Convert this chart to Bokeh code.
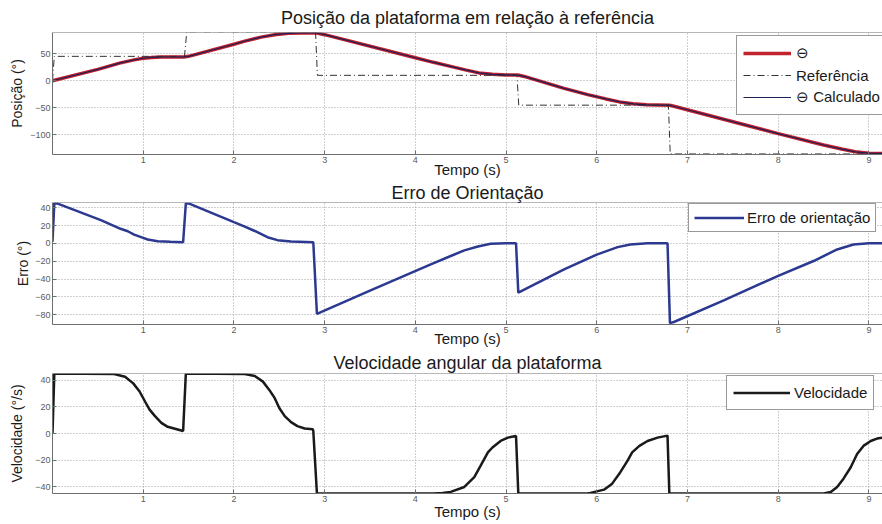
from bokeh.plotting import figure
from bokeh.models import FixedTicker, Span, Legend, LegendItem, Range1d
from bokeh.layouts import column
from bokeh.embed import file_html
from bokeh.resources import INLINE

# ---------------- data ----------------
x_ticks = [1, 2, 3, 4, 5, 6, 7, 8, 9]

# Position of the platform (deg)
pos_t = [0.0, 0.5, 0.75, 0.9, 1.0, 1.1, 1.2, 1.45, 1.5, 2.0, 2.12, 2.3, 2.45, 2.6, 2.75, 2.9,
         3.0, 4.0, 4.2, 4.4, 4.55, 4.7, 4.85, 5.0, 5.13, 5.2, 5.64, 5.9, 6.1, 6.25, 6.4, 6.55,
         6.8, 6.85, 8.0, 8.5, 8.7, 8.85, 9.0, 9.15]
pos_v = [0.0, 21.0, 33.0, 38.5, 41.5, 43.0, 43.8, 44.0, 45.0, 67.3, 73.0, 80.5, 85.0, 87.5, 88.3, 88.5,
         85.0, 42.5, 34.0, 26.0, 20.0, 14.5, 11.8, 10.8, 10.5, 8.0, -14.0, -25.5, -33.5, -39.0, -42.5, -44.3,
         -45.0, -47.0, -97.5, -118.5, -126.0, -131.0, -133.5, -134.0]

# Reference (deg)
ref_t = [0.0, 0.02, 1.455, 1.48, 2.9, 2.92, 5.12, 5.14, 6.79, 6.81, 9.15]
ref_v = [0.0, 45.0, 45.0, 90.0, 90.0, 10.0, 10.0, -45.0, -45.0, -135.0, -135.0]

# Orientation error (deg)
err_t = [0.0, 0.02, 0.05, 0.54, 0.75, 0.83, 0.9, 1.0, 1.05, 1.16, 1.3, 1.44, 1.47, 1.5, 2.0, 2.12,
         2.23, 2.37, 2.48, 2.63, 2.875, 2.915, 3.5, 4.17, 4.39, 4.54, 4.69, 4.83, 5.0, 5.11, 5.135,
         5.64, 6.0, 6.23, 6.37, 6.56, 6.78, 6.807, 6.85, 7.4, 8.0, 8.39, 8.65, 8.83, 9.0, 9.15]
err_v = [2.0, 45.0, 45.0, 26.0, 16.5, 13.7, 10.0, 6.2, 4.4, 2.6, 1.8, 1.4, 45.0, 45.0, 24.0, 19.0,
         14.0, 7.0, 3.7, 2.2, 1.4, -79.0, -52.9, -23.4, -14.1, -7.8, -3.4, -0.4, 0.2, 0.3, -55.2,
         -29.0, -12.5, -4.1, -1.1, 0.3, 0.3, -89.5, -88.2, -64.0, -36.3, -19.7, -6.7, -1.1, 0.3, 0.3]

# Angular velocity (deg/s)
vel_t = [0.0, 0.02, 0.68, 0.8, 0.89, 0.96, 1.02, 1.07, 1.13, 1.2, 1.27, 1.35, 1.44, 1.47,
         2.12, 2.23, 2.32, 2.39, 2.45, 2.5, 2.56, 2.63, 2.7, 2.78, 2.87, 2.875, 2.915,
         4.2, 4.3, 4.39, 4.54, 4.65, 4.72, 4.8, 4.85, 4.94, 5.02, 5.11, 5.135,
         5.9, 5.93, 6.08, 6.17, 6.26, 6.34, 6.39, 6.47, 6.56, 6.67, 6.78, 6.8,
         8.5, 8.58, 8.65, 8.72, 8.8, 8.87, 8.94, 9.02, 9.09, 9.15]
vel_v = [0.0, 45.0, 44.6, 42.6, 37.6, 31.5, 24.0, 17.9, 13.0, 8.0, 5.0, 3.6, 1.9, 45.0,
         44.6, 43.1, 38.9, 32.7, 26.5, 19.1, 13.0, 8.5, 5.5, 3.8, 3.1, 2.0, -45.0,
         -45.0, -44.7, -43.8, -40.1, -32.7, -24.1, -14.2, -10.5, -5.6, -3.1, -1.9, -45.0,
         -45.0, -44.6, -42.1, -37.6, -29.0, -20.4, -14.2, -9.3, -5.6, -3.1, -1.6, -45.0,
         -45.0, -43.8, -40.1, -33.9, -25.3, -15.4, -9.3, -5.6, -3.8, -3.1]

pos_ticks = [-100, -50, 0, 50]
err_ticks = [-80, -60, -40, -20, 0, 20, 40]
vel_ticks = [-40, -20, 0, 20, 40]

# ---------------- styling helpers ----------------
FONT = "Liberation Sans"
W = 882
X_END = 9.15
AXIS_C = "#6e6e6e"


def make_fig(height, top, bottom, y0, y1, yticks, title, ylabel, t_standoff,
             xl_standoff, yl_standoff):
    p = figure(width=W, height=height, x_range=Range1d(0, X_END), y_range=Range1d(y0, y1),
               output_backend="svg", toolbar_location=None,
               min_border_left=52, min_border_right=0, min_border_top=top,
               min_border_bottom=bottom)
    p.title.text = title
    p.title.align = "center"
    p.title.text_font = FONT
    p.title.text_font_size = "18px"
    p.title.text_font_style = "normal"
    p.title.text_color = "#1a1a1a"
    p.title.standoff = t_standoff
    p.outline_line_color = None

    for ax in (p.xaxis, p.yaxis):
        ax.axis_line_color = AXIS_C
        ax.major_tick_line_color = AXIS_C
        ax.major_tick_in = 4
        ax.major_tick_out = 0
        ax.minor_tick_line_color = None
        ax.major_label_text_font = FONT
        ax.major_label_text_font_size = "9px"
        ax.major_label_text_color = "#5a5a5a"
        ax.axis_label_text_font = FONT
        ax.axis_label_text_font_style = "normal"
        ax.axis_label_text_color = "#1a1a1a"

    p.xaxis.ticker = FixedTicker(ticks=x_ticks)
    p.xaxis.axis_label = "Tempo (s)"
    p.xaxis.axis_label_text_font_size = "15px"
    p.xaxis.major_label_standoff = 2
    p.xaxis.axis_label_standoff = xl_standoff

    p.yaxis.ticker = FixedTicker(ticks=yticks)
    p.yaxis.axis_label = ylabel
    p.yaxis.axis_label_text_font_size = "14px"
    p.yaxis.major_label_standoff = 2
    p.yaxis.axis_label_standoff = yl_standoff

    p.grid.grid_line_color = "#a0a0a0"
    p.grid.grid_line_dash = "1 2"
    p.grid.grid_line_width = 1

    p.add_layout(Span(location=y1, dimension="width", line_color=AXIS_C, line_width=1))
    return p


def style_legend(lg, glyph_w, standoff, pad, row_h):
    lg.border_line_color = "#333333"
    lg.border_line_width = 1
    lg.background_fill_color = "white"
    lg.background_fill_alpha = 1.0
    lg.label_text_font = FONT
    lg.label_text_font_size = "15px"
    lg.label_text_color = "#1a1a1a"
    lg.glyph_width = glyph_w
    lg.glyph_height = row_h
    lg.label_height = row_h
    lg.label_standoff = standoff
    lg.padding = pad
    lg.spacing = 0
    lg.margin = 0


# ---------------- plot 1: position ----------------
p1 = make_fig(180, 31, 26, -136, 89, pos_ticks,
              "Posição da plataforma em relação à referência", "Posição (°)", 10, -5, 2)
r_theta = p1.line(pos_t, pos_v, line_color="#c0222e", line_width=3.5)
r_ref = p1.line(ref_t, ref_v, line_color="#333333", line_width=1, line_dash="7 3 1 3")
r_calc = p1.line(pos_t, pos_v, line_color="#1f1f55", line_width=1.2)
lg1 = Legend(items=[LegendItem(label="⊖", renderers=[r_theta]),
                    LegendItem(label="Referência", renderers=[r_ref]),
                    LegendItem(label="⊖ Calculado", renderers=[r_calc])],
             location=(684, 39))
style_legend(lg1, 48, 5, 6, 22)
p1.add_layout(lg1)

# ---------------- plot 2: orientation error ----------------
p2 = make_fig(169, 21, 25, -91, 46, err_ticks,
              "Erro de Orientação", "Erro (°)", 0, -6, 1)
r_err = p2.line(err_t, err_v, line_color="#2c3990", line_width=2.5)
lg2 = Legend(items=[LegendItem(label="Erro de orientação", renderers=[r_err])],
             location=(636, 92))
style_legend(lg2, 50, 3, 5, 17)
p2.add_layout(lg2)

# ---------------- plot 3: angular velocity ----------------
p3 = make_fig(175, 23, 31, -45, 45, vel_ticks,
              "Velocidade angular da plataforma", "Velocidade (°/s)", 2, -2, 7)
r_vel = p3.line(vel_t, vel_v, line_color="#1a1a1a", line_width=2.5)
lg3 = Legend(items=[LegendItem(label="Velocidade", renderers=[r_vel])],
             location=(674, 83))
style_legend(lg3, 57, 4, 6, 21)
p3.add_layout(lg3)

layout = column(p1, p2, p3, spacing=0)
open("out.html", "w").write(file_html(layout, INLINE))
